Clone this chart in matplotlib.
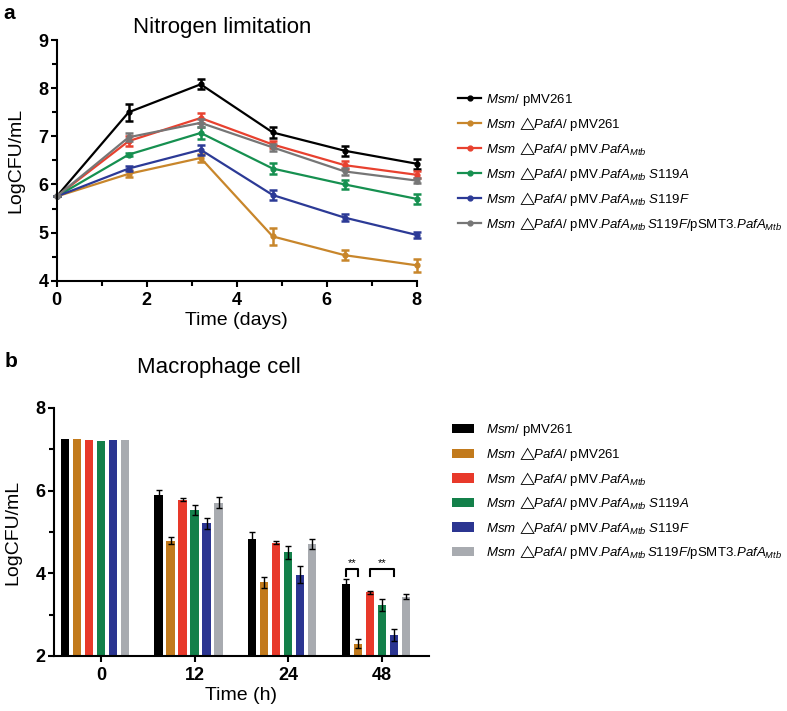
import numpy as np
import matplotlib.pyplot as plt
from matplotlib.ticker import MultipleLocator

plt.rcParams['font.family'] = ['Liberation Sans', 'DejaVu Sans']
plt.rcParams['mathtext.fontset'] = 'custom'
plt.rcParams['mathtext.rm'] = 'Liberation Sans'
plt.rcParams['mathtext.it'] = 'Liberation Sans:italic'
plt.rcParams['mathtext.bf'] = 'Liberation Sans:bold'
plt.rcParams['mathtext.fallback'] = 'stixsans'

# strain labels
pre = r'$\mathit{Msm}\;{\triangle}\!\!\mathit{PafA}$/ '
labels = [
    r'$\mathit{Msm}$/ pMV261',
    pre + r'pMV261',
    pre + r'pMV.$\mathit{PafA}_{\mathit{Mtb}}$',
    pre + r'pMV.$\mathit{PafA}_{\mathit{Mtb}}\;\mathit{S119A}$',
    pre + r'pMV.$\mathit{PafA}_{\mathit{Mtb}}\;\mathit{S119F}$',
    pre + r'pMV.$\mathit{PafA}_{\mathit{Mtb}}\,\mathit{S119F}$/pSMT3.$\mathit{PafA}_{\mathit{Mtb}}$',
]
line_colors = ['#000000', '#c8862b', '#e8412f', '#169050', '#2c3a96', '#767676']
bar_colors = ['#000000', '#c27a1c', '#e8392a', '#13804a', '#2b3591', '#a8abb0']

# panel a: nitrogen limitation
days = [0, 1.6, 3.2, 4.8, 6.4, 8]
a_mean = [
    [5.75, 7.50, 8.08, 7.08, 6.70, 6.43],
    [5.75, 6.22, 6.55, 4.92, 4.53, 4.32],
    [5.75, 6.90, 7.38, 6.83, 6.40, 6.20],
    [5.75, 6.62, 7.07, 6.33, 6.00, 5.70],
    [5.75, 6.33, 6.72, 5.78, 5.31, 4.95],
    [5.75, 6.98, 7.28, 6.77, 6.27, 6.08],
]
a_err = [
    [0, 0.18, 0.10, 0.12, 0.10, 0.10],
    [0, 0.07, 0.08, 0.17, 0.10, 0.14],
    [0, 0.10, 0.10, 0.08, 0.08, 0.07],
    [0, 0.03, 0.12, 0.12, 0.10, 0.10],
    [0, 0.06, 0.10, 0.10, 0.07, 0.07],
    [0, 0.08, 0.08, 0.08, 0.08, 0.05],
]

# panel b: macrophage cell
hours = ['0', '12', '24', '48']
b_mean = [
    [7.25, 5.89, 4.84, 3.74],
    [7.26, 4.79, 3.78, 2.30],
    [7.23, 5.78, 4.74, 3.54],
    [7.19, 5.53, 4.51, 3.24],
    [7.23, 5.21, 3.97, 2.51],
    [7.23, 5.71, 4.71, 3.43],
]
b_err = [
    [np.nan, 0.12, 0.16, 0.12],
    [np.nan, 0.09, 0.14, 0.10],
    [np.nan, 0.04, 0.04, 0.04],
    [np.nan, 0.13, 0.16, 0.15],
    [np.nan, 0.14, 0.20, 0.14],
    [np.nan, 0.14, 0.13, 0.06],
]
# significance brackets at 48 h: (first bar, last bar, height)
sig_pairs = [(0, 1, 4.1), (2, 4, 4.1)]

fig = plt.figure(figsize=(7.87, 7.11), dpi=100)

def style_axes(ax):
    for s in ['top', 'right']:
        ax.spines[s].set_visible(False)
    for s in ['left', 'bottom']:
        ax.spines[s].set_linewidth(1.5)
    ax.tick_params(which='major', length=4, width=1.5, labelsize=13)
    ax.tick_params(which='minor', length=3.5, width=1.5)
    ax.tick_params(axis='x', pad=4)
    ax.tick_params(axis='y', pad=2)
    for t in ax.get_xticklabels() + ax.get_yticklabels():
        t.set_fontweight('bold')

# ---- panel a
ax1 = fig.add_axes([0.072, 0.6052, 0.4575, 0.3385])
for i in range(6):
    ax1.errorbar(days, a_mean[i], yerr=a_err[i], fmt='none', ecolor=line_colors[i],
                 capsize=3, capthick=1.8, elinewidth=1.8, clip_on=False)
    ax1.plot(days, a_mean[i], color=line_colors[i], lw=1.6, marker='o', ms=3.5,
             label=labels[i], clip_on=False)
ax1.set_xlim(0, 8)
ax1.set_ylim(4, 9)
ax1.xaxis.set_major_locator(MultipleLocator(2))
ax1.xaxis.set_minor_locator(MultipleLocator(1))
ax1.yaxis.set_major_locator(MultipleLocator(1))
ax1.yaxis.set_minor_locator(MultipleLocator(0.5))
style_axes(ax1)
ax1.set_xlabel('Time (days)', fontsize=14, labelpad=2)
ax1.set_ylabel('LogCFU/mL', fontsize=14, labelpad=10)
ax1.set_title('Nitrogen limitation', fontsize=16, pad=5, x=0.46)
fig.text(0.004, 0.995, 'a', fontsize=15, fontweight='bold', va='top')

h, l = ax1.get_legend_handles_labels()
fig.legend(h, l, loc='upper left', bbox_to_anchor=(0.582, 0.871), frameon=False,
           fontsize=9.5, borderpad=0, borderaxespad=0, handlelength=1.75,
           handletextpad=0.4, labelspacing=0.53)

# ---- panel b
ax2 = fig.add_axes([0.0686, 0.0774, 0.4765, 0.3488])
x = np.arange(len(hours))
pitch = 0.128
width = 0.088
for i in range(6):
    xs = x + (i - 3) * pitch
    ax2.bar(xs, b_mean[i], width=width, color=bar_colors[i], label=labels[i], zorder=2)
    ax2.errorbar(xs, b_mean[i], yerr=b_err[i], fmt='none', ecolor='black',
                 elinewidth=1, capsize=2, capthick=1, zorder=3)
for b0, b1, yb in sig_pairs:
    x0 = x[3] + (b0 - 3) * pitch
    x1 = x[3] + (b1 - 3) * pitch
    ax2.plot([x0, x0, x1, x1], [yb - 0.16, yb, yb, yb - 0.16], color='black', lw=1.5)
    ax2.text((x0 + x1) / 2, yb + 0.02, '**', ha='center', va='bottom', fontsize=8)
ax2.set_xlim(-0.5, 3.5)
ax2.set_ylim(2, 8)
ax2.set_xticks(x)
ax2.set_xticklabels(hours)
ax2.yaxis.set_major_locator(MultipleLocator(2))
ax2.yaxis.set_minor_locator(MultipleLocator(1))
style_axes(ax2)
ax2.set_xlabel('Time (h)', fontsize=14, labelpad=2)
ax2.set_ylabel('LogCFU/mL', fontsize=14, labelpad=10)
ax2.set_title('Macrophage cell', fontsize=16, pad=25, x=0.44)
fig.text(0.006, 0.505, 'b', fontsize=15, fontweight='bold', va='top')

h, l = ax2.get_legend_handles_labels()
fig.legend(h, l, loc='upper left', bbox_to_anchor=(0.574, 0.406), frameon=False,
           fontsize=9.5, borderpad=0, borderaxespad=0, handlelength=1.7,
           handleheight=0.7, handletextpad=0.9, labelspacing=0.5)

fig.savefig('out.png', dpi=100)
